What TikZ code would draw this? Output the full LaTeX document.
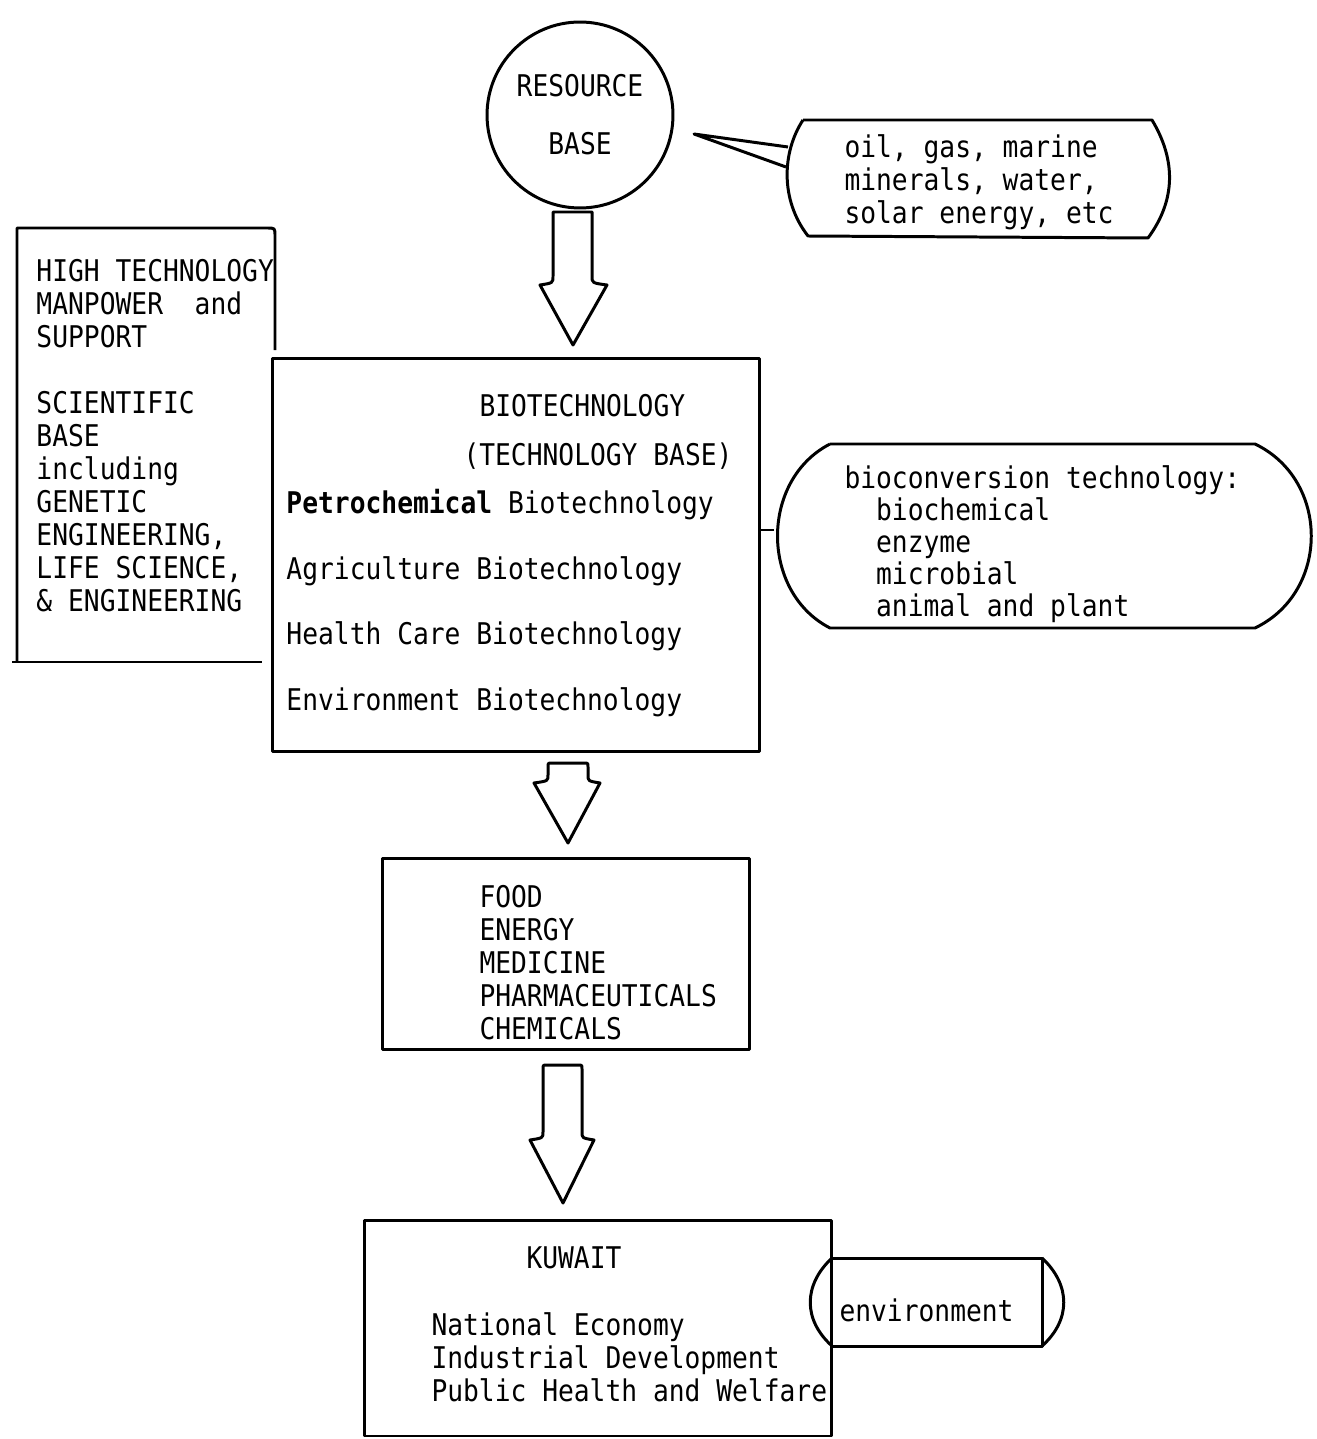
\documentclass[tikz,border=0pt]{standalone}
\usepackage{fontspec}
\newfontfamily\typer[FakeStretch=0.88]{DejaVu Sans Mono}
\usetikzlibrary{positioning,
                shapes.geometric}

\begin{document}
\begin{tikzpicture}%
            [x = 0.02cm, y = -0.02cm,
             line width = 1.7pt,
             line join = round,
             frame/.style = {draw, rectangle, inner sep = 0pt},
             txt/.style = {font = \typer\fontsize{17pt}{18.8pt}\selectfont,
                           align = left, inner sep = 0pt, anchor = north west}]
            \useasboundingbox (0,0) rectangle (1316,1439);

            % resource base and its callout
            \node [txt, draw, circle, anchor = center, align = center,
                   minimum size = 3.72cm] (res) at (580,115) {RESOURCE\\[0.5cm]BASE};
            \node [txt] (oil) at (843,133) {oil, gas, marine\\minerals, water,\\solar energy, etc};
            \draw (803,120) -- (1152,120) .. controls (1176,160) and (1176,200) .. (1148,238)
                  -- (808,236) .. controls (780,200) and (782,152) .. (803,120);
            \coordinate (ptip) at (694,134);
            \coordinate (oilA) at (788,147);
            \coordinate (oilB) at (786,167);
            \draw (oilA) -- (ptip) -- (oilB);

            % manpower and science
            \node [txt] (manpower) at (35,258) {HIGH TECHNOLOGY\\MANPOWER~~and\\SUPPORT\\[0.66cm]%
                   SCIENTIFIC\\BASE\\including\\GENETIC\\ENGINEERING,\\LIFE SCIENCE,\\\& ENGINEERING};
            \draw (275,350) -- (275,236) .. controls (275,228) .. (267,228) -- (17,228) -- (17,662);
            \draw (12,662) -- (262,662);

            % technology base
            \node [frame, minimum width = 9.76cm, minimum height = 7.88cm] (biotech) at (516,555) {};
            \node [txt] (btitle) at (478,393) {BIOTECHNOLOGY};
            \node [txt] (bsub) at (462,441) {(TECHNOLOGY BASE)};
            \node [txt] (blist) at (285,488) {\textbf{Petrochemical} Biotechnology\\[0.65cm]%
                   Agriculture Biotechnology\\[0.65cm]Health Care Biotechnology\\[0.65cm]%
                   Environment Biotechnology};

            \node [txt, font = \typer\fontsize{17pt}{18.2pt}\selectfont] (conv) at (843,464)
                  {bioconversion technology:\\~~biochemical\\~~enzyme\\~~microbial\\~~animal and plant};
            \draw (830,444) -- (1255,444) .. controls (1330,480) and (1330,592) .. (1255,628)
                  -- (830,628) .. controls (760,592) and (760,480) .. (830,444);
            \coordinate (convw) at (774,530);
            \draw (convw) -- (convw -| biotech.east);

            % products
            \node [frame, minimum width = 7.34cm, minimum height = 3.84cm] (prod) at (566,954) {};
            \node [txt] (plist) at (478,884) {FOOD\\ENERGY\\MEDICINE\\PHARMACEUTICALS\\CHEMICALS};

            % kuwait
            \node [frame, minimum width = 9.34cm, minimum height = 4.32cm] (kuwait) at (598,1328) {};
            \node [txt] (ktitle) at (525,1245) {KUWAIT};
            \node [txt] (klist) at (430,1311) {National Economy\\Industrial Development\\Public Health and Welfare};
            \node [txt, anchor = base west] (env) at (838,1321) {environment};
            \draw (832,1258) -- (1042,1258) -- (1042,1346) -- (832,1346);
            \draw (832,1258) .. controls (803,1285) and (803,1320) .. (832,1346);
            \draw (1042,1258) .. controls (1071,1285) and (1071,1320) .. (1042,1346);

            % block arrows
            \draw (553,212) -- (553,276) .. controls (553,283) .. (540,285) -- (573,345)
                  -- (607,285) .. controls (592,283) .. (592,276) -- (592,212) -- cycle;
            \draw (552,763) -- (584,763) .. controls (588,763) .. (588,767) -- (588,775)
                  .. controls (588,781) .. (600,783) -- (568,843) -- (534,783)
                  .. controls (548,781) .. (548,775) -- (548,767) .. controls (548,763) .. (552,763) -- cycle;
            \draw (547,1065) -- (578,1065) .. controls (582,1065) .. (582,1069) -- (582,1132)
                  .. controls (582,1138) .. (594,1140) -- (563,1203) -- (530,1140)
                  .. controls (543,1138) .. (543,1132) -- (543,1069) .. controls (543,1065) .. (547,1065) -- cycle;
        \end{tikzpicture}
\end{document}
